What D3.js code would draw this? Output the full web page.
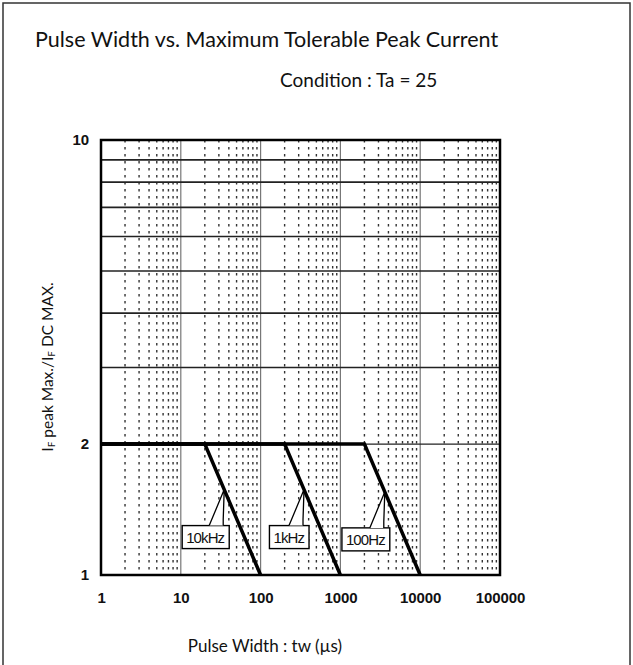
<!DOCTYPE html>
<html>
<head>
<meta charset="utf-8">
<script src="https://cdn.jsdelivr.net/npm/d3@7"></script>
<style>
  body { margin: 0; background: #fff; }
  svg { display: block; }
</style>
</head>
<body>
<svg id="chart"></svg>
<script>
// values
var xTicks = [1, 10, 100, 1000, 10000, 100000]
var yTicks = [1, 2, 10]
var yGridValues = [2, 3, 4, 5, 6, 7, 8, 9]
var freqLabels = ["10kHz", "1kHz", "100Hz"]
var curveTw = [[1, 20, 100], [1, 200, 1000], [1, 2000, 10000]]
var curveRatio = [[2, 2, 1], [2, 2, 1], [2, 2, 1]]
var calloutTw = [35, 350, 3600]

var width = 633
var height = 665
var margin = { left: 101, top: 140, right: 133, bottom: 90 }

var svg = d3.select('#chart').attr('width', width).attr('height', height)

// outer frame
svg.append('rect')
  .attr('x', 3).attr('y', 3)
  .attr('width', 627).attr('height', 668)
  .attr('fill', 'none')
  .attr('stroke', '#333')
  .attr('stroke-width', 1.5)

var x = d3.scaleLog().domain([1, 100000]).range([margin.left, width - margin.right])
var y = d3.scaleLog().domain([1, 10]).range([height - margin.bottom, margin.top])

var grid = svg.append('g').attr('class', 'grid')

// minor verticals, dotted
var minorX = []
xTicks.slice(0, -1).forEach(function (d) {
  for (var k = 2; k <= 9; k++) minorX.push(d * k)
})
grid.selectAll('line.minor').data(minorX).enter().append('line')
  .attr('class', 'minor')
  .attr('x1', function (d) { return x(d) }).attr('x2', function (d) { return x(d) })
  .attr('y1', y(10)).attr('y2', y(1))
  .attr('stroke', '#333')
  .attr('stroke-width', 1.4)
  .attr('stroke-dasharray', '2.5,4.5')

// decade verticals
grid.selectAll('line.decade').data(xTicks.slice(1, -1)).enter().append('line')
  .attr('class', 'decade')
  .attr('x1', function (d) { return x(d) }).attr('x2', function (d) { return x(d) })
  .attr('y1', y(10)).attr('y2', y(1))
  .attr('stroke', '#777')
  .attr('stroke-width', 1.2)

// horizontals
grid.selectAll('line.h').data(yGridValues).enter().append('line')
  .attr('class', 'h')
  .attr('x1', x(1)).attr('x2', x(100000))
  .attr('y1', function (d) { return y(d) }).attr('y2', function (d) { return y(d) })
  .attr('stroke', '#222')
  .attr('stroke-width', function (d) { return d === 2 ? 1.2 : 1.6 })

// plot border
svg.append('rect')
  .attr('x', x(1)).attr('y', y(10))
  .attr('width', x(100000) - x(1)).attr('height', y(1) - y(10))
  .attr('fill', 'none')
  .attr('stroke', '#000')
  .attr('stroke-width', 2.5)

// curves
var line = d3.line()
  .x(function (d) { return x(d[0]) })
  .y(function (d) { return y(d[1]) })

freqLabels.forEach(function (label, i) {
  var pts = curveTw[i].map(function (t, j) { return [t, curveRatio[i][j]] })
  svg.append('path')
    .datum(pts)
    .attr('d', line)
    .attr('fill', 'none')
    .attr('stroke', '#000')
    .attr('stroke-width', 3.5)
    .attr('stroke-linejoin', 'miter')
})

// callouts
function ratioAt(i, tw) {
  var t = curveTw[i], r = curveRatio[i]
  var f = (Math.log10(tw) - Math.log10(t[1])) / (Math.log10(t[2]) - Math.log10(t[1]))
  return Math.pow(10, Math.log10(r[1]) + f * (Math.log10(r[2]) - Math.log10(r[1])))
}

var callouts = svg.append('g').attr('class', 'callouts')
freqLabels.forEach(function (label, i) {
  var px = x(calloutTw[i])
  var py = y(ratioAt(i, calloutTw[i]))
  var g = callouts.append('g')
  var txt = g.append('text')
    .attr('font-family', 'Liberation Sans, Arial, sans-serif')
    .attr('font-size', 15)
    .attr('letter-spacing', -0.9)
    .attr('fill', '#111')
    .text(label)
  var w = txt.node().getComputedTextLength() + 9
  var bx = px + 5 - w
  var by = py + 36
  g.insert('rect', 'text')
    .attr('x', bx).attr('y', by)
    .attr('width', w).attr('height', 23)
    .attr('fill', '#fff')
    .attr('stroke', '#000')
    .attr('stroke-width', 1.4)
  txt.attr('x', bx + 4).attr('y', by + 17)
  g.append('path')
    .attr('d', 'M' + (px - 15) + ',' + by + 'L' + px + ',' + py +
      'L' + (px - 1) + ',' + (by - 6) + 'L' + (px - 1) + ',' + by)
    .attr('fill', '#fff')
    .attr('stroke', '#000')
    .attr('stroke-width', 1.3)
})

// axes
var fmt = function (d) { return String(d) }
var xAxis = svg.append('g')
  .attr('transform', 'translate(0,' + y(1) + ')')
  .call(d3.axisBottom(x).tickValues(xTicks).tickFormat(fmt).tickSize(0).tickPadding(17))
var yAxis = svg.append('g')
  .attr('transform', 'translate(' + x(1) + ',0)')
  .call(d3.axisLeft(y).tickValues(yTicks).tickFormat(fmt).tickSize(0).tickPadding(12))
;[xAxis, yAxis].forEach(function (a) {
  a.select('.domain').remove()
  a.selectAll('text')
    .attr('font-family', 'Liberation Sans, Arial, sans-serif')
    .attr('font-size', 15)
    .attr('font-weight', 'bold')
    .attr('letter-spacing', -0.1)
    .attr('fill', '#111')
})

// titles
svg.append('text')
  .attr('x', 35).attr('y', 47)
  .attr('font-family', 'Lato, sans-serif')
  .attr('font-size', 21.5)
  .attr('fill', '#111')
  .text('Pulse Width vs. Maximum Tolerable Peak Current')

svg.append('text')
  .attr('x', 280).attr('y', 87)
  .attr('font-family', 'Lato, sans-serif')
  .attr('font-size', 19)
  .attr('fill', '#111')
  .text('Condition : Ta = 25')

svg.append('text')
  .attr('x', 265).attr('y', 652)
  .attr('text-anchor', 'middle')
  .attr('font-family', 'Lato, sans-serif')
  .attr('font-size', 17)
  .attr('fill', '#111')
  .text('Pulse Width : tw (\u00b5s)')

var yl = svg.append('text')
  .attr('transform', 'translate(53,367) rotate(-90)')
  .attr('text-anchor', 'middle')
  .attr('font-family', 'Lato, sans-serif')
  .attr('font-size', 15.5)
  .attr('fill', '#111')
yl.append('tspan').text('I')
yl.append('tspan').attr('font-size', 10).attr('dy', 2).text('F')
yl.append('tspan').attr('dy', -2).text(' peak Max./I')
yl.append('tspan').attr('font-size', 10).attr('dy', 2).text('F')
yl.append('tspan').attr('dy', -2).text(' DC MAX.')
</script>
</body>
</html>
